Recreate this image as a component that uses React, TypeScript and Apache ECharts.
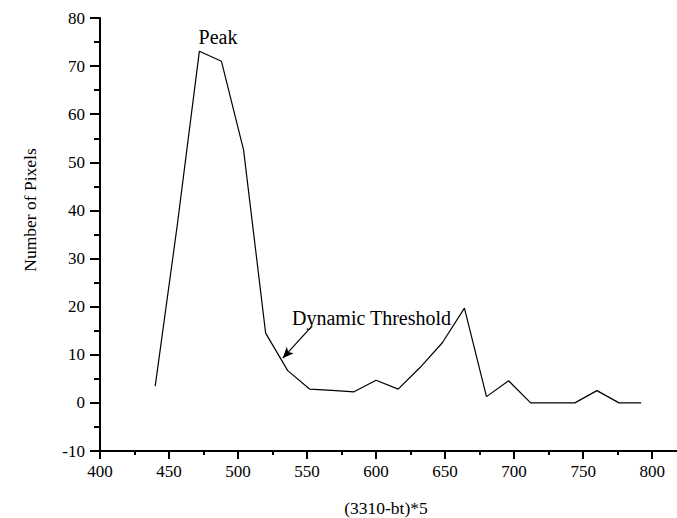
import React, { useEffect, useRef } from "react";
import * as echarts from "echarts";

const xValues = [440, 456, 472, 488, 504, 520, 536, 552, 568, 584, 600, 616, 632, 648, 664, 680, 696, 712, 728, 744, 760, 776, 792];
const pixelCounts = [3.5, 37, 73.1, 71, 52.6, 14.5, 6.7, 2.85, 2.6, 2.3, 4.7, 2.85, 7.4, 12.5, 19.7, 1.3, 4.6, 0, 0, 0, 2.55, 0, 0];
const xTickLabels = [400, 450, 500, 550, 600, 650, 700, 750, 800];
const xMinorTicks = [425, 475, 525, 575, 625, 675, 725, 775];
const arrowFrom = [553.7, 16];
const arrowTo = [532.4, 9.3];

const FONT = "'Liberation Serif', 'Times New Roman', Times, serif";

export default function App() {
  const ref = useRef<HTMLDivElement>(null);
  useEffect(() => {
    if (!ref.current) return;
    const chart = echarts.init(ref.current, null, { renderer: "svg" });
    const lineStyle = { color: "#000", width: 2 };
    const labelStyle = { fontSize: 17, fontFamily: FONT, color: "#000" };
    const textStyle = (size: number) => ({ fontSize: size, fontFamily: FONT, fill: "#000" });
    chart.setOption({
      animation: false,
      backgroundColor: "#fff",
      textStyle: { fontFamily: FONT },
      grid: { left: 100, right: 0, top: 18, bottom: 67, containLabel: false },
      xAxis: [
        {
          type: "value",
          min: 400,
          max: 818,
          axisLine: { show: true, onZero: false, lineStyle },
          axisTick: { show: true, customValues: xTickLabels, length: 8, lineStyle },
          axisLabel: { customValues: xTickLabels, margin: 12, ...labelStyle },
          splitLine: { show: false },
        },
        {
          type: "value",
          min: 400,
          max: 818,
          position: "bottom",
          axisLine: { show: false, onZero: false },
          axisTick: { show: true, customValues: xMinorTicks, length: 4, lineStyle },
          axisLabel: { show: false },
          splitLine: { show: false },
        },
      ],
      yAxis: {
        type: "value",
        min: -10,
        max: 80,
        interval: 10,
        axisLine: { show: true, onZero: false, lineStyle },
        axisTick: { show: true, length: 10, lineStyle },
        minorTick: { show: true, splitNumber: 2, length: 6, lineStyle },
        minorSplitLine: { show: false },
        axisLabel: { margin: 15, ...labelStyle },
        splitLine: { show: false },
      },
      graphic: [
        {
          type: "text",
          x: 30,
          y: 210,
          rotation: Math.PI / 2,
          style: { text: "Number of Pixels", ...textStyle(17.5), textAlign: "center", textVerticalAlign: "middle" },
        },
        {
          type: "text",
          x: 386,
          y: 508,
          style: { text: "(3310-bt)*5", ...textStyle(17.5), textAlign: "center", textVerticalAlign: "middle" },
        },
        {
          type: "text",
          x: 218,
          y: 37,
          style: { text: "Peak", ...textStyle(20), textAlign: "center", textVerticalAlign: "middle" },
        },
        {
          type: "text",
          x: 292,
          y: 318,
          style: { text: "Dynamic Threshold", ...textStyle(20), textAlign: "left", textVerticalAlign: "middle" },
        },
      ],
      series: [
        {
          type: "line",
          data: xValues.map((x, i) => [x, pixelCounts[i]]),
          symbol: "none",
          lineStyle: { color: "#000", width: 1.2 },
          markLine: {
            silent: true,
            symbol: ["none", "arrow"],
            symbolSize: [7, 11],
            label: { show: false },
            lineStyle: { color: "#000", width: 1.2, type: "solid" },
            data: [[{ coord: arrowFrom }, { coord: arrowTo }]],
          },
        },
      ],
    });
    return () => chart.dispose();
  }, []);
  return (
    <div
      ref={ref}
      style={{ position: "fixed", left: 0, top: 0, width: 677, height: 518, background: "#fff" }}
    />
  );
}
